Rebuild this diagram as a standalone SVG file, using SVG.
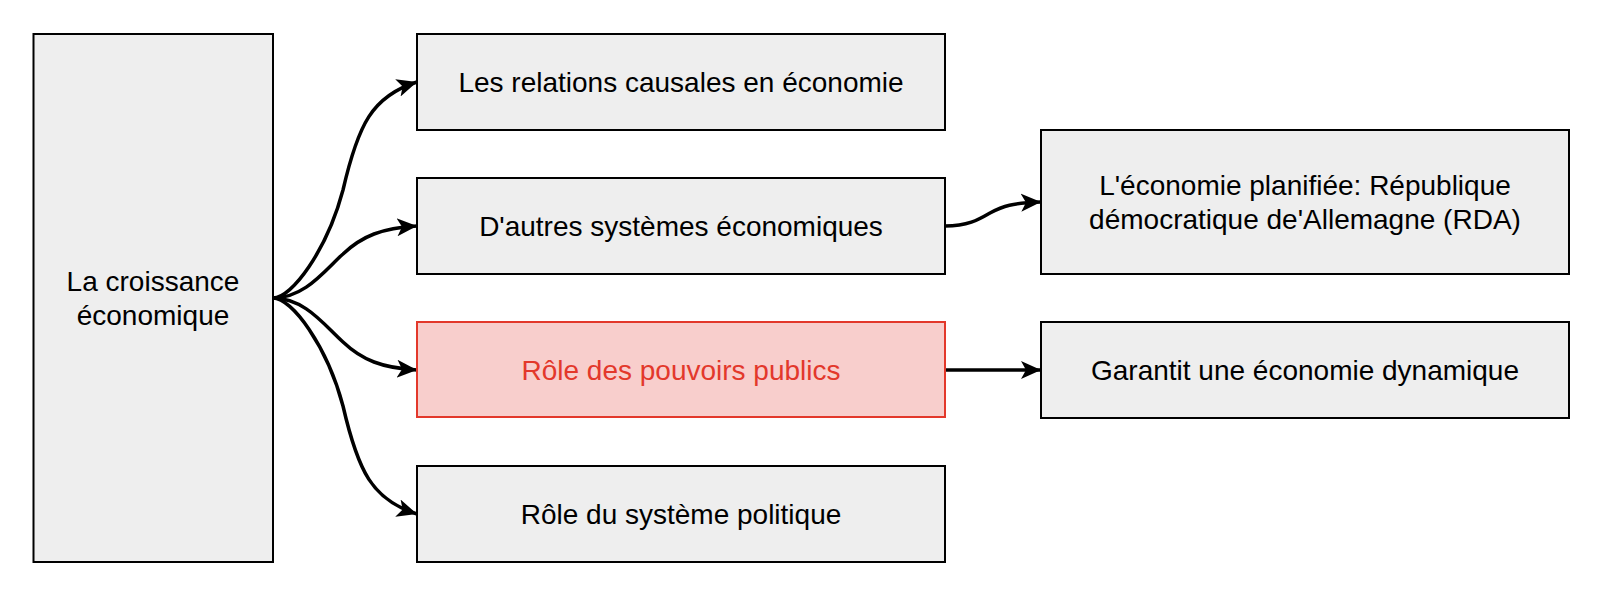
<svg xmlns="http://www.w3.org/2000/svg" width="1610" height="598" viewBox="0 0 1610 598">
<style>
.box{fill:#eeeeee;stroke:#000000;stroke-width:2}
.red{fill:#f8cecc;stroke:#e3382b;stroke-width:2}
.t{font-family:"Liberation Sans",Arial,Helvetica,sans-serif;font-size:28px;fill:#000000;text-anchor:middle}
.tr{fill:#e3382b}
.e{fill:none;stroke:#000000;stroke-width:3.5;marker-end:url(#arr)}
</style>
<defs>
<marker id="arr" markerUnits="userSpaceOnUse" markerWidth="22" markerHeight="20" viewBox="0 0 22 20" refX="20" refY="10" orient="auto">
<path d="M0,1 L20,10 L0,19 L5,10 z" fill="#000000"/>
</marker>
</defs>
<g id="connectors">
<path class="e" d="M273,298 C292,298 327,250 343,190 C358,125 372,96 417,82"/>
<path class="e" d="M273,298 C305,298 325,270 343,254 C362,236 382,228 417,226"/>
<path class="e" d="M273,298 C305,298 325,326 343,342 C362,360 382,368 417,370"/>
<path class="e" d="M273,298 C292,298 327,346 343,406 C358,471 372,500 417,514"/>
<path class="e" d="M945,226 C968,226 978,220 990,213 C1003,206 1012,203 1041,202"/>
<path class="e" d="M945,370 L1041,370"/>
</g>
<g id="n0">
<rect class="box" x="33.5" y="34" width="239.5" height="528"/>
<text class="t" x="153" y="291">La croissance</text>
<text class="t" x="153" y="324.5">économique</text>
</g>
<g id="n1">
<rect class="box" x="417" y="34" width="528" height="96"/>
<text class="t" x="681" y="92">Les relations causales en économie</text>
</g>
<g id="n2">
<rect class="box" x="417" y="178" width="528" height="96"/>
<text class="t" x="681" y="236">D'autres systèmes économiques</text>
</g>
<g id="n3">
<rect class="red" x="417" y="322" width="528" height="95"/>
<text class="t tr" x="681" y="380">Rôle des pouvoirs publics</text>
</g>
<g id="n4">
<rect class="box" x="417" y="466" width="528" height="96"/>
<text class="t" x="681" y="524">Rôle du système politique</text>
</g>
<g id="n5">
<rect class="box" x="1041" y="130" width="528" height="144"/>
<text class="t" x="1305" y="195">L'économie planifiée: République</text>
<text class="t" x="1305" y="228.5">démocratique de'Allemagne (RDA)</text>
</g>
<g id="n6">
<rect class="box" x="1041" y="322" width="528" height="96"/>
<text class="t" x="1305" y="380">Garantit une économie dynamique</text>
</g>
</svg>
